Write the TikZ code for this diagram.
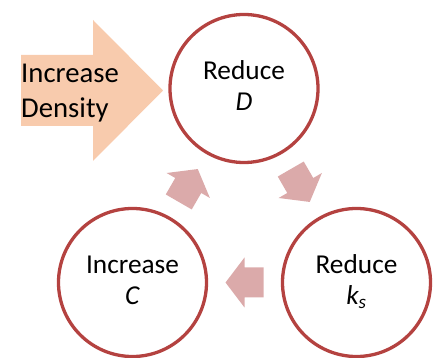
\documentclass[tikz,border=0pt]{standalone}
\usepackage{fontspec}
\setmainfont{Carlito}
\usetikzlibrary{calc}

\definecolor{ringred}{RGB}{180,66,64}
\definecolor{flowpink}{RGB}{219,170,170}
\definecolor{peach}{RGB}{248,203,173}

\tikzset{
  stage/.style={circle, draw=ringred, line width=3.3pt, minimum size=148pt, inner sep=0pt},
  stagetext/.style={anchor=base, align=center, inner sep=0pt,
    font=\fontsize{27.3}{31}\selectfont},
  flow/.style={fill=flowpink},
}

\begin{document}
\begin{tikzpicture}[x=1pt,y=1pt]
  \useasboundingbox (0,0) rectangle (444,358);

  % big input arrow
  \fill[peach] (21,232) -- (93,232) -- (93,197) -- (163,267.5)
    -- (93,338) -- (93,303) -- (21,303) -- cycle;
  \node[anchor=base west, align=left, inner sep=0pt,
    font=\fontsize{28.7}{35}\selectfont] (dens) at (21,240) {Increase\\Density};

  % the three stages
  \node[stage] (redD) at (244,269.5) {};
  \node[stage] (incC) at (132.5,75.5) {};
  \node[stage] (redK) at (356.5,75.5) {};

  \node[stagetext] (redDtxt) at ([yshift=-22.5pt]redD.center) {Reduce\\\textit{D}};
  \node[stagetext] (incCtxt) at ([yshift=-22.5pt]incC.center) {Increase\\\textit{C}};
  \node[stagetext] (redKtxt) at ([yshift=-22.5pt]redK.center) {Reduce\\\textit{k\textsubscript{s}}};

  % cycle arrows
  \foreach \from/\to/\ang in {incC/redD/60, redD/redK/-60, redK/incC/180}{
    \begin{scope}[shift={($(\from)!0.5!(\to)$)}, rotate=\ang]
      \fill[flow] (-19,-15) -- (0,-15) -- (0,-25) -- (19,0)
        -- (0,25) -- (0,15) -- (-19,15) -- cycle;
    \end{scope}
  }
\end{tikzpicture}
\end{document}
